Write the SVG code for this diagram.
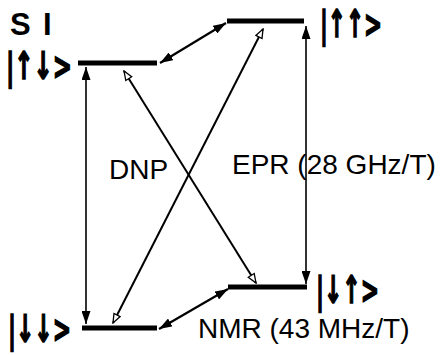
<svg xmlns="http://www.w3.org/2000/svg" width="440" height="355" viewBox="0 0 440 355">
<defs>
<style>
.lvl{stroke:#000;stroke-width:5;fill:none}
.v{stroke:#000;stroke-width:1.6;fill:none;marker-start:url(#fa);marker-end:url(#fa)}
.d{stroke:#000;stroke-width:2.2;fill:none;marker-start:url(#fa);marker-end:url(#fa)}
.x{stroke:#000;stroke-width:2;fill:none;marker-start:url(#ha);marker-end:url(#ha)}
.lbl{font-family:"Liberation Sans",Arial,sans-serif;font-size:28px;fill:#000}
.ket{font-family:"DejaVu Sans",sans-serif;font-weight:bold;font-size:38px;fill:#000;stroke:#000;stroke-width:1.6}
.si{font-family:"Liberation Sans",Arial,sans-serif;font-weight:bold;font-size:31px;fill:#000}
</style>
<marker id="fa" markerUnits="userSpaceOnUse" viewBox="0 0 13 9" refX="13" refY="4.5" markerWidth="13" markerHeight="9" orient="auto-start-reverse">
<path d="M0,0 L13,4.5 L0,9 z" fill="#000"/>
</marker>
<marker id="ha" markerUnits="userSpaceOnUse" viewBox="-1 -1 11 9" refX="9" refY="3.5" markerWidth="11" markerHeight="9" orient="auto-start-reverse">
<path d="M0,0 L9,3.5 L0,7 z" fill="#fff" stroke="#000" stroke-width="1.3"/>
</marker>
</defs>
<rect width="440" height="355" fill="#fff"/>
<g id="level-updown">
<line class="lvl" x1="78" y1="63" x2="157" y2="63"/>
<text class="ket" x="6" y="79" textLength="66" lengthAdjust="spacingAndGlyphs">|↑↓&gt;</text>
</g>
<g id="level-upup">
<line class="lvl" x1="227" y1="21" x2="304" y2="21"/>
<text class="ket" x="320" y="37" textLength="62" lengthAdjust="spacingAndGlyphs">|↑↑&gt;</text>
</g>
<g id="level-downdown">
<line class="lvl" x1="82" y1="328" x2="157" y2="328"/>
<text class="ket" x="8" y="342" textLength="63" lengthAdjust="spacingAndGlyphs">|↓↓&gt;</text>
</g>
<g id="level-downup">
<line class="lvl" x1="228" y1="287" x2="307" y2="287"/>
<text class="ket" x="316" y="303" textLength="63" lengthAdjust="spacingAndGlyphs">|↓↑&gt;</text>
</g>
<g id="spin-labels">
<text class="si" x="10" y="35">S</text>
<text class="si" x="43" y="35">I</text>
</g>
<g id="connectors">
<line class="v" x1="86" y1="67" x2="86" y2="324"/>
<line class="v" x1="306" y1="26" x2="306" y2="284"/>
<line class="d" x1="160" y1="63" x2="226" y2="23"/>
<line class="d" x1="159" y1="329" x2="228" y2="289"/>
<line class="x" x1="124" y1="71" x2="256" y2="283"/>
<line class="x" x1="263" y1="29" x2="113" y2="323"/>
</g>
<g id="labels">
<text class="lbl" x="109" y="179">DNP</text>
<text class="lbl" x="232" y="174">EPR (28 GHz/T)</text>
<text class="lbl" x="198" y="338">NMR (43 MHz/T)</text>
</g>
</svg>
